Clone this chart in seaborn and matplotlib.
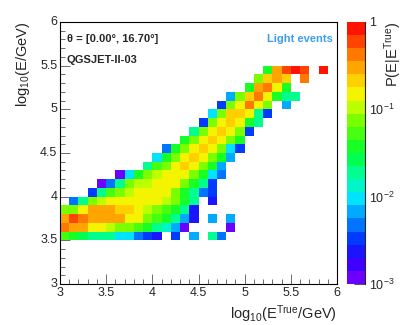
import numpy as np
import pandas as pd
import matplotlib
matplotlib.use('Agg')
import matplotlib.pyplot as plt
import seaborn as sns
from matplotlib.colors import LinearSegmentedColormap, ListedColormap, LogNorm
from matplotlib.ticker import MultipleLocator, LogLocator, NullFormatter

nan = np.nan

# ─── DATA: P(E|E_true), one list per log10(E/GeV) row, 0.1-wide bins ─────────
# each row starts at the x given in row_first_x and runs in 0.1 steps
row_y = [3.5, 3.6, 3.7, 3.8, 3.9, 4.0, 4.1, 4.2, 4.3, 4.4,
         4.5, 4.6, 4.7, 4.8, 4.9, 5.0, 5.1, 5.2, 5.3, 5.4]
row_first_x = [3.0, 3.0, 3.0, 3.0, 3.1, 3.3, 3.4, 3.6, 3.9, 4.0,
               4.1, 4.3, 4.4, 4.5, 4.6, 4.7, 4.8, 5.0, 5.1, 5.2]

p_3p5 = [0.06, 0.035, 0.03, 0.022, 0.018, 0.016, 0.011, 0.01, 0.005, 0.003,
         0.0028, nan, 0.003, nan, 0.007, nan, 0.018, 0.005]
p_3p6 = [0.4, 0.28, 0.27, 0.15, 0.13, 0.12, 0.08, 0.07, 0.06, 0.035,
         0.022, 0.013, 0.007, 0.0012, nan, nan, nan, nan, 0.0012]
p_3p7 = [0.3, 0.7, 0.42, 0.28, 0.28, 0.27, 0.26, 0.15, 0.13, 0.07,
         0.06, 0.035, 0.016, 0.007, 0.0025, nan, 0.007, nan, 0.007]
p_3p8 = [0.07, 0.07, 0.13, 0.26, 0.26, 0.26, 0.25, 0.22, 0.14, 0.09,
         0.07, 0.06, 0.035, 0.016, 0.0028]
p_3p9 = [0.005, 0.017, 0.07, 0.1, 0.14, 0.15, 0.15, 0.14, 0.14, 0.13,
         0.11, 0.07, 0.035, 0.017, nan, 0.0028]
p_4p0 = [0.003, 0.022, 0.06, 0.07, 0.1, 0.14, 0.14, 0.14, 0.14, 0.07,
         0.035, 0.02, 0.005, 0.003]
p_4p1 = [0.0013, 0.005, 0.017, 0.065, 0.1, 0.12, 0.14, 0.14, 0.14, 0.07,
         0.035, 0.016, 0.003]
p_4p2 = [0.0013, 0.01, 0.035, 0.07, 0.12, 0.14, 0.15, 0.15, 0.07, 0.035,
         0.01, 0.005]
p_4p3 = [0.017, 0.06, 0.08, 0.14, 0.25, 0.15, 0.07, 0.035, 0.007]
p_4p4 = [0.01, 0.035, 0.07, 0.15, 0.25, 0.15, 0.07, 0.035, 0.007]
p_4p5 = [0.005, 0.035, 0.08, 0.15, 0.25, 0.15, 0.07, 0.01, 0.003]
p_4p6 = [0.035, 0.07, 0.15, 0.25, 0.15, 0.07, 0.035]
p_4p7 = [0.017, 0.07, 0.15, 0.25, 0.15, 0.07, 0.003]
p_4p8 = [0.003, 0.07, 0.15, 0.25, 0.15, 0.035, 0.017]
p_4p9 = [0.01, 0.07, 0.25, 0.25, 0.15, 0.017, 0.003]
p_5p0 = [0.003, 0.07, 0.15, 0.4, 0.15, 0.07, nan, 0.007]
p_5p1 = [0.007, 0.07, 0.25, 0.4, 0.15, 0.035, 0.02, 0.017]
p_5p2 = [0.04, 0.28, 0.4, 0.15, 0.04]
p_5p3 = [0.07, 0.25, 0.28, 0.25, nan, 0.4]
p_5p4 = [0.04, 0.3, 0.6, 0.9, 0.55, nan, 0.9]

p_rows = [p_3p5, p_3p6, p_3p7, p_3p8, p_3p9, p_4p0, p_4p1, p_4p2, p_4p3, p_4p4,
          p_4p5, p_4p6, p_4p7, p_4p8, p_4p9, p_5p0, p_5p1, p_5p2, p_5p3, p_5p4]

# ─── BUILD 30x30 GRID (3..6 in both axes) ─────────────────────────────────────
edges = np.round(np.arange(3.0, 6.0, 0.1), 1)
grid = pd.DataFrame(nan, index=edges, columns=edges)
for y, x0, vals in zip(row_y, row_first_x, p_rows):
    for k, v in enumerate(vals):
        grid.loc[y, round(x0 + 0.1 * k, 1)] = v

# ROOT-like rainbow palette, 20 contour levels
anchors = [(0.00, '#8000ff'), (0.10, '#2a00ff'), (0.17, '#0038ff'),
           (0.25, '#0090ff'), (0.33, '#00e8ff'), (0.41, '#00ffa0'),
           (0.50, '#00ff30'), (0.62, '#70ff00'), (0.70, '#e0ff00'),
           (0.74, '#ffee00'), (0.82, '#ffaa00'), (0.88, '#ff7700'),
           (0.94, '#ff3300'), (1.00, '#ff0000')]
smooth = LinearSegmentedColormap.from_list('root', anchors)
cmap = ListedColormap(smooth((np.arange(20) + 0.5) / 20))

# ─── PLOT ─────────────────────────────────────────────────────────────────────
sns.set_style('white')
plt.rcParams['font.family'] = ['Liberation Sans', 'DejaVu Sans']
plt.rcParams['mathtext.fontset'] = 'custom'
plt.rcParams['mathtext.rm'] = 'Liberation Sans'
plt.rcParams['mathtext.default'] = 'regular'

fig = plt.figure(figsize=(4.09, 3.25), dpi=100)
ax = fig.add_axes([0.1467, 0.1262, 0.6773, 0.8062])
cax = fig.add_axes([0.8484, 0.1262, 0.044, 0.8062])

sns.heatmap(grid, ax=ax, cbar_ax=cax, cmap=cmap, norm=LogNorm(1e-3, 1),
            mask=grid.isna(), linewidths=0)

ax.set_xlim(0, 30)
ax.set_ylim(0, 30)
for s in ax.spines.values():
    s.set_visible(True)
    s.set_color('black')
    s.set_linewidth(0.8)

major = [0, 5, 10, 15, 20, 25, 30]
labels = ['3', '3.5', '4', '4.5', '5', '5.5', '6']
ax.set_xticks(major)
ax.set_xticklabels(labels, rotation=0, fontsize=9)
ax.set_yticks(major)
ax.set_yticklabels(labels, rotation=0, fontsize=9)
ax.xaxis.set_minor_locator(MultipleLocator(1))
ax.yaxis.set_minor_locator(MultipleLocator(1))
ax.tick_params(which='both', direction='in', top=False, right=False,
               bottom=True, left=True, width=0.6, color='#555555', pad=2)
ax.tick_params(which='major', length=7)
ax.tick_params(which='minor', length=3.5)

ax.set_xlabel(r'log$_{10}$(E$^{True}$/GeV)', loc='right', fontsize=10.5, labelpad=3)
ax.set_ylabel(r'log$_{10}$(E/GeV)', loc='top', fontsize=10.5, labelpad=6)

ax.text(0.025, 0.955, 'θ = [0.00°, 16.70°]', transform=ax.transAxes,
        fontsize=8, fontweight='bold', va='top', ha='left')
ax.text(0.025, 0.875, 'QGSJET-II-03', transform=ax.transAxes,
        fontsize=8, fontweight='bold', va='top', ha='left')
ax.text(0.985, 0.955, 'Light events', transform=ax.transAxes, color='#3c9cf0',
        fontsize=8, fontweight='bold', va='top', ha='right')

# colour bar styled like a ROOT palette axis
cax.set_yscale('log')
cax.set_ylim(1e-3, 1)
cax.yaxis.set_ticks_position('right')
cax.set_yticks([1e-3, 1e-2, 1e-1, 1])
cax.set_yticklabels([r'10$^{-3}$', r'10$^{-2}$', r'10$^{-1}$', '1'], fontsize=9)
cax.yaxis.set_minor_locator(LogLocator(base=10, subs=np.arange(2, 10)))
cax.yaxis.set_minor_formatter(NullFormatter())
cax.tick_params(which='both', direction='in', right=True, left=False,
                width=0.6, color='#333333', pad=3)
cax.tick_params(which='major', length=8)
cax.tick_params(which='minor', length=4)
cax.spines['right'].set_visible(True)
cax.spines['right'].set_linewidth(0.8)
cax.yaxis.set_label_position('right')
cax.set_ylabel(r'P(E|E$^{True}$)', loc='top', fontsize=10.5)
cax.yaxis.set_label_coords(2.55, 1.0)
cax.yaxis.label.set_verticalalignment('center')

fig.savefig('out.png', dpi=100)
